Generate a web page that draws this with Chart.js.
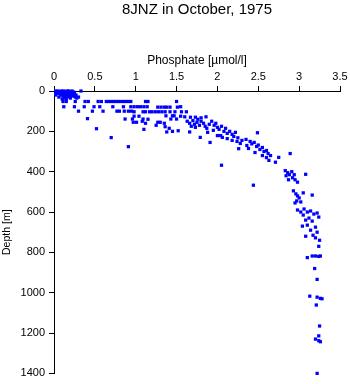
<!DOCTYPE html>
<html>
<head>
<meta charset="utf-8">
<script src="https://cdn.jsdelivr.net/npm/chart.js@4"></script>
<style>
html,body{margin:0;padding:0;background:#fff;}
#wrap{width:350px;height:384px;position:relative;}
</style>
</head>
<body>
<div id="wrap"><canvas id="c" width="350" height="384"></canvas></div>
<script>
const chartTitle = "8JNZ in October, 1975";
const xAxisTitle = "Phosphate [\u00b5mol/l]";
const yAxisTitle = "Depth [m]";
const xTicks = [0, 0.5, 1, 1.5, 2, 2.5, 3, 3.5];
const yTicks = [0, 200, 400, 600, 800, 1000, 1200, 1400];

// phosphate [µmol/l] and depth [m], paired by index
const phosphate = [
  0.02,0.02,0.02,0.05,0.07,0.09,0.10,0.12,0.13,0.15,0.16,0.18,0.20,0.22,0.24,0.25,0.11,0.14,0.18,0.20,0.08,0.06,0.23,0.26,0.28,0.33,0.15,0.12,0.20,0.10,0.30,0.27,0.17,0.09,0.21,
  0.07,0.11,0.14,0.19,0.23,0.13,0.17,0.25,0.05,0.16,0.22,0.19,
  0.11,0.15,0.26,0.38,0.42,0.54,0.58,0.64,0.67,0.70,0.73,0.76,0.79,0.82,0.85,0.88,0.91,0.94,1.12,1.15,1.50,
  0.12,0.25,0.37,0.49,0.56,0.72,0.85,0.94,0.98,1.02,1.06,1.10,1.14,1.27,1.31,1.35,1.38,1.42,1.51,1.55,
  0.30,0.47,0.60,0.77,0.80,0.86,0.91,0.95,0.98,1.09,1.12,1.17,1.20,1.24,1.28,1.32,1.36,1.42,1.48,1.56,1.62,
  0.41,0.98,1.04,1.37,1.45,1.47,0.87,0.96,1.09,1.43,1.50,0.97,1.01,1.27,1.30,1.08,1.15,1.12,1.35,1.25,1.55,1.60,1.67,1.73,1.80,1.86,
  0.52,0.70,0.91,1.10,1.38,1.41,1.52,1.36,1.45,1.66,1.79,1.91,
  1.63,1.66,1.70,1.72,1.75,1.78,1.80,1.83,1.85,1.87,1.68,1.73,1.76,1.90,1.93,1.96,1.98,2.00,2.02,2.05,2.08,1.95,2.10,2.12,1.88,2.00,2.04,2.15,2.18,2.20,2.22,2.25,2.12,2.06,2.30,2.24,2.18,2.28,2.26,2.36,2.05,
  2.35,2.40,2.42,2.45,2.48,2.50,2.52,2.55,2.57,2.60,2.62,2.49,2.38,2.46,2.55,2.60,2.63,2.65,2.71,2.75,2.89,2.44,
  2.83,2.86,2.84,2.88,2.91,2.92,2.95,2.98,2.94,2.87,3.08,
  2.93,2.96,2.98,3.00,2.97,3.02,3.05,3.16,2.95,
  2.98,3.02,3.06,3.10,3.14,3.18,3.22,3.24,3.05,3.12,3.08,3.16,
  3.04,3.10,3.14,3.20,3.22,3.17,3.20,3.08,3.25,3.24,
  3.16,3.20,3.24,3.26,3.10,3.19,3.22,3.13,3.22,3.26,3.28,3.21,3.25,3.24,3.20,3.24,3.26,3.22
];
const depth = [
  0,10,20,0,5,0,10,0,15,5,20,0,10,0,5,15,25,30,25,30,20,30,25,30,35,0,40,35,35,40,30,20,10,15,20,
  5,5,8,5,12,22,28,8,12,0,18,15,
  52,52,52,52,52,52,52,52,52,52,52,52,52,52,52,52,52,52,52,52,52,
  78,78,78,78,78,78,78,78,78,78,78,78,78,80,80,80,80,80,80,78,
  100,100,100,100,100,100,100,100,103,103,103,103,103,103,103,103,103,103,103,103,103,
  137,125,125,123,123,123,139,139,139,139,139,155,155,155,155,150,140,160,160,170,125,128,130,130,133,128,
  187,231,276,190,203,185,197,177,200,203,230,255,
  150,160,147,165,155,170,150,160,175,185,175,180,140,165,150,170,160,180,190,175,200,195,185,210,205,221,221,200,215,225,205,232,236,230,245,250,245,260,286,270,368,
  240,250,262,255,275,268,290,280,300,295,310,207,285,305,320,330,344,320,353,329,310,467,
  395,405,420,415,400,430,440,452,415,440,413,
  495,510,520,530,545,550,505,516,555,
  590,600,585,600,595,610,605,625,615,630,640,645,
  670,665,690,675,700,715,728,720,740,770,
  818,818,820,818,826,880,934,1017,1022,1028,1030,1061,1165,1214,1230,1238,1243,1400
];

const points = phosphate.map((p, i) => ({x: p, y: depth[i]}));
const FONT = "'Liberation Sans', Arial, Helvetica, sans-serif";

new Chart(document.getElementById('c'), {
  type: 'scatter',
  data: {
    datasets: [{
      data: points,
      pointStyle: 'rect',
      pointRadius: 2.3,
      pointHoverRadius: 2.3,
      borderWidth: 0,
      backgroundColor: '#0000ff',
      borderColor: '#0000ff',
      clip: false
    }]
  },
  options: {
    responsive: false,
    animation: false,
    events: [],
    layout: { padding: { left: 0, right: 10, top: 0, bottom: 9 } },
    plugins: {
      legend: { display: false },
      tooltip: { enabled: false },
      title: {
        display: true,
        text: chartTitle,
        fullSize: false,
        color: '#000',
        font: { family: FONT, size: 15, weight: 'normal', lineHeight: 1.2 },
        padding: { top: 1, bottom: 0 }
      }
    },
    scales: {
      x: {
        type: 'linear',
        position: 'top',
        min: 0, max: 3.5,
        afterBuildTicks: (s) => { s.ticks = xTicks.map(v => ({value: v})); },
        afterFit: (s) => { s.height = 72; },
        ticks: {
          color: '#000',
          font: { family: FONT, size: 11 },
          padding: 2,
          maxRotation: 0,
          callback: (v) => String(v)
        },
        grid: { display: true, drawOnChartArea: false, drawTicks: true, tickLength: 5, color: '#000', lineWidth: 1 },
        border: { display: true, color: '#000', width: 1 },
        title: {
          display: true, text: xAxisTitle, color: '#000',
          font: { family: FONT, size: 12 },
          padding: { top: 34, bottom: 0 }
        }
      },
      y: {
        type: 'linear',
        position: 'left',
        reverse: true,
        min: 0, max: 1400,
        afterBuildTicks: (s) => { s.ticks = yTicks.map(v => ({value: v})); },
        afterFit: (s) => { s.width = 54; },
        ticks: {
          color: '#000',
          font: { family: FONT, size: 11 },
          padding: 4,
          callback: (v) => String(v)
        },
        grid: { display: true, drawOnChartArea: false, drawTicks: true, tickLength: 5, color: '#000', lineWidth: 1 },
        border: { display: true, color: '#000', width: 1 },
        title: {
          display: true, text: yAxisTitle, color: '#000',
          font: { family: FONT, size: 10.5 },
          padding: { top: 1, bottom: 0 }
        }
      }
    }
  }
});
</script>
</body>
</html>
